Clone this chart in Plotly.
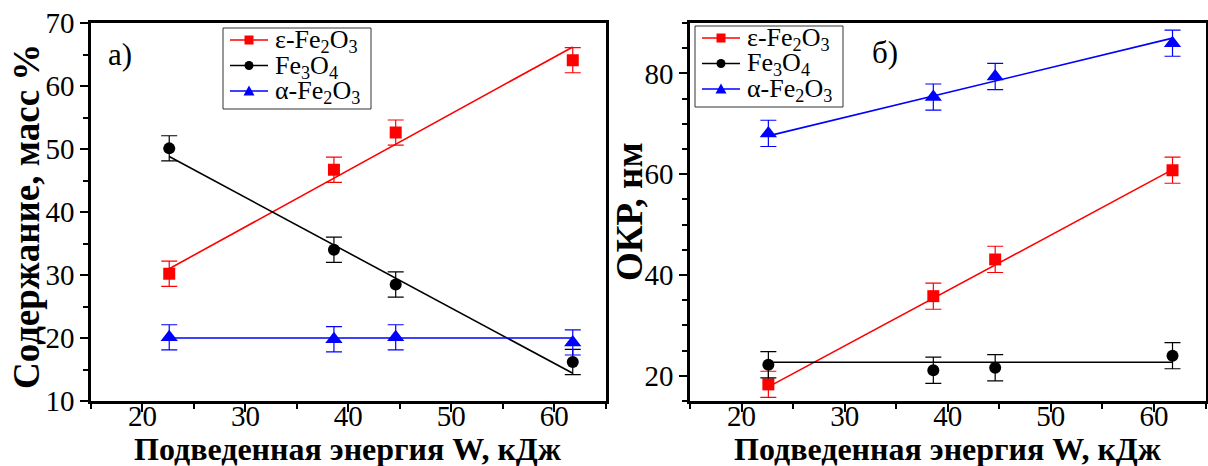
import plotly.graph_objects as go

# Supplied energy W, kJ (same for both panels)
energy = [22.6, 38.6, 44.6, 61.8]

# Panel а): phase content, mass %
eps_content = [30.2, 46.7, 52.6, 64.1]
fe3o4_content = [50.1, 34.0, 28.5, 16.2]
alpha_content = [20.1, 19.8, 20.1, 19.3]
content_err = [2.0, 2.0, 2.0, 2.0]
# Linear fits: values at first and last energy
eps_content_fit = [31.0, 66.2]
fe3o4_content_fit = [48.8, 14.4]
alpha_content_fit = [20.0, 20.0]

# Panel б): coherent scattering region (ОКР), nm
eps_size = [18.3, 35.8, 43.1, 60.8]
fe3o4_size = [22.2, 21.1, 21.6, 24.0]
alpha_size = [68.1, 75.3, 79.4, 86.0]
size_err = [2.6, 2.6, 2.6, 2.6]
eps_size_fit = [17.8, 60.9]
fe3o4_size_fit = [22.7, 22.7]
alpha_size_fit = [67.6, 87.0]

names = ["ε-Fe<sub>2</sub>O<sub>3</sub>", "Fe<sub>3</sub>O<sub>4</sub>", "α-Fe<sub>2</sub>O<sub>3</sub>"]
colors = ["#ff0000", "#000000", "#0000ff"]
symbols = ["square", "circle", "triangle-up"]
msizes = [12, 12, 15]

W, H = 1208, 466
FONT = "Liberation Serif"

fig = go.Figure()

panels = [
    dict(xa="x", ya="y",
         vals=[eps_content, fe3o4_content, alpha_content],
         fits=[eps_content_fit, fe3o4_content_fit, alpha_content_fit], err=content_err),
    dict(xa="x2", ya="y2",
         vals=[eps_size, fe3o4_size, alpha_size],
         fits=[eps_size_fit, fe3o4_size_fit, alpha_size_fit], err=size_err),
]

for p in panels:
    for i in range(3):
        # fitted straight line
        fig.add_trace(go.Scatter(
            x=[energy[0], energy[-1]], y=p["fits"][i], mode="lines",
            line=dict(color=colors[i], width=1.6), xaxis=p["xa"], yaxis=p["ya"],
            showlegend=False, hoverinfo="skip"))
    for i in range(3):
        # measured points with error bars
        fig.add_trace(go.Scatter(
            x=energy, y=p["vals"][i], mode="markers", name=names[i],
            marker=dict(color=colors[i], symbol=symbols[i], size=msizes[i]),
            error_y=dict(type="data", array=p["err"], color=colors[i], thickness=1.2, width=8),
            xaxis=p["xa"], yaxis=p["ya"], showlegend=False))

def px_x(v):
    return v / W

def px_y(v):
    return 1 - v / H

ydom = [px_y(401), px_y(23)]
axis_common = dict(
    showline=True, linewidth=2.6, linecolor="black", mirror=True,
    ticks="outside", ticklen=8, tickwidth=2, tickcolor="black",
    showgrid=False, zeroline=False, automargin=False,
    tickfont=dict(family=FONT, size=29, color="black"),
)
minor = dict(ticklen=5, tickwidth=2, tickcolor="black", showgrid=False)

fig.update_layout(
    template="none", showlegend=False,
    width=W, height=H, margin=dict(l=0, r=0, t=0, b=0, autoexpand=False),
    paper_bgcolor="white", plot_bgcolor="white",
    font=dict(family=FONT, color="black"),
    xaxis=dict(domain=[px_x(91), px_x(605.7)], range=[15, 65], dtick=10, tick0=0,
               minor=dict(dtick=5, **minor), anchor="y", ticklabelstandoff=-21,
               **axis_common),
    yaxis=dict(domain=ydom, range=[10, 70], dtick=10, tick0=0,
               minor=dict(dtick=5, **minor), anchor="x", **axis_common),
    xaxis2=dict(domain=[px_x(690), px_x(1205.5)], range=[15, 65], dtick=10, tick0=0,
                minor=dict(dtick=5, **minor), anchor="y2", ticklabelstandoff=-21,
                **axis_common),
    yaxis2=dict(domain=ydom, range=[15, 90], dtick=20, tick0=0,
                minor=dict(dtick=5, **minor), anchor="x2", **axis_common),
)

# Legend boxes for both panels (framed key: line sample, marker, label)
legend_origins = [(223, 28), (695, 26)]
for ox, oy in legend_origins:
    fig.add_shape(type="rect", xref="paper", yref="paper",
                  x0=px_x(ox), x1=px_x(ox + 148), y0=px_y(oy), y1=px_y(oy + 81),
                  line=dict(color="#333", width=1), fillcolor="white", layer="above")
    for j in range(3):
        yc = oy + 12 + 25.5 * j
        mx = ox + 26
        fig.add_shape(type="line", xref="paper", yref="paper",
                      x0=px_x(ox + 7), x1=px_x(ox + 45), y0=px_y(yc), y1=px_y(yc),
                      line=dict(color=colors[j], width=1.6), layer="above")
        if symbols[j] == "square":
            fig.add_shape(type="rect", xref="paper", yref="paper",
                          x0=px_x(mx - 4.5), x1=px_x(mx + 4.5),
                          y0=px_y(yc - 4.5), y1=px_y(yc + 4.5),
                          line=dict(width=0), fillcolor=colors[j], layer="above")
        elif symbols[j] == "circle":
            fig.add_shape(type="circle", xref="paper", yref="paper",
                          x0=px_x(mx - 4.5), x1=px_x(mx + 4.5),
                          y0=px_y(yc - 4.5), y1=px_y(yc + 4.5),
                          line=dict(width=0), fillcolor=colors[j], layer="above")
        else:
            path = "M {:.5f},{:.5f} L {:.5f},{:.5f} L {:.5f},{:.5f} Z".format(
                px_x(mx - 5.5), px_y(yc + 4.5), px_x(mx + 5.5), px_y(yc + 4.5),
                px_x(mx), px_y(yc - 5.5))
            fig.add_shape(type="path", xref="paper", yref="paper", path=path,
                          line=dict(width=0), fillcolor=colors[j], layer="above")
        fig.add_annotation(xref="paper", yref="paper", showarrow=False,
                           text=names[j], x=px_x(ox + 50), y=px_y(yc + 1),
                           xanchor="left", yanchor="middle",
                           font=dict(family=FONT, size=26, color="black"))

xtitle_font = dict(family=FONT, size=32, color="black")
ytitle_font = dict(family=FONT, size=37, color="black")
annotations = [
    dict(text="<b>Подведенная энергия W, кДж</b>", x=px_x(348), y=px_y(449),
         font=xtitle_font),
    dict(text="<b>Подведенная энергия W, кДж</b>", x=px_x(948), y=px_y(449),
         font=xtitle_font),
    dict(text="<b>Содержание, масс %</b>", x=px_x(26), y=px_y(217),
         textangle=-90, font=ytitle_font),
    dict(text="<b>ОКР, нм</b>", x=px_x(629), y=px_y(212),
         textangle=-90, font=ytitle_font),
    dict(text="а)", x=px_x(120), y=px_y(54), font=dict(family=FONT, size=31, color="black")),
    dict(text="б)", x=px_x(885), y=px_y(52), font=dict(family=FONT, size=31, color="black")),
]
for a in annotations:
    fig.add_annotation(xref="paper", yref="paper", showarrow=False,
                       xanchor="center", yanchor="middle", **a)

fig.write_html("out.html")
